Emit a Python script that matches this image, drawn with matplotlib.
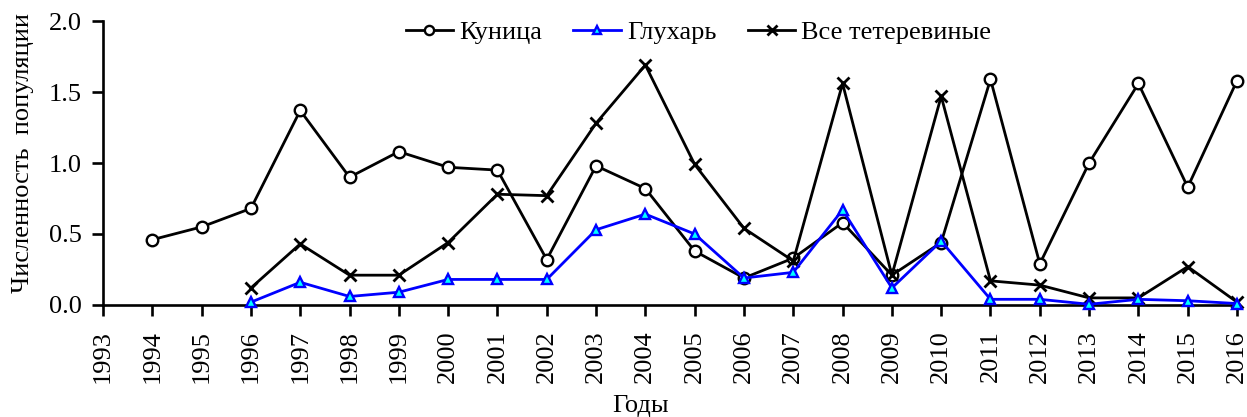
import matplotlib
matplotlib.use("Agg")
import matplotlib.pyplot as plt

years = list(range(1993, 2017))

kunitsa_years = list(range(1994, 2017))
kunitsa = [0.46, 0.55, 0.68, 1.37, 0.90, 1.08, 0.97, 0.95, 0.32, 0.98, 0.82,
           0.38, 0.19, 0.33, 0.58, 0.21, 0.44, 1.59, 0.29, 1.00, 1.56, 0.83, 1.58]

bird_years = list(range(1996, 2017))
glukhar = [0.02, 0.16, 0.06, 0.09, 0.18, 0.18, 0.18, 0.53, 0.64, 0.50, 0.19,
           0.23, 0.67, 0.12, 0.45, 0.04, 0.04, 0.005, 0.04, 0.03, 0.01]
tetereviny = [0.12, 0.43, 0.21, 0.21, 0.44, 0.78, 0.77, 1.28, 1.69, 0.99, 0.54,
              0.31, 1.56, 0.21, 1.47, 0.17, 0.14, 0.05, 0.05, 0.27, 0.02]

plt.rcParams['font.family'] = ['Liberation Serif', 'DejaVu Serif']
plt.rcParams['font.size'] = 19

fig = plt.figure(figsize=(12.47, 4.17), dpi=100)
ax = fig.add_axes([0.0826, 0.2686, 0.9094, 0.681])

lw = 2.0
ax.plot(kunitsa_years, kunitsa, color='black', lw=lw, marker='o', ms=8.3,
        mfc='white', mec='black', mew=1.7, label='Куница', clip_on=False, zorder=3)
ax.plot(bird_years, glukhar, color='blue', lw=lw, marker='^', ms=7.5,
        mfc='cyan', mec='blue', mew=1.7, label='Глухарь', clip_on=False, zorder=4)
ax.plot(bird_years, tetereviny, color='black', lw=lw, marker='x', ms=9,
        mec='black', mew=2.0, label='Все тетеревиные', clip_on=False, zorder=3)

ax.set_xlim(1993, 2016)
ax.set_ylim(0, 2.0)
ax.set_xticks(years)
ax.set_xticklabels([str(y) for y in years], rotation=90)
ax.set_yticks([0.0, 0.5, 1.0, 1.5, 2.0])
ax.set_yticklabels(['0.0', '0.5', '1.0', '1.5', '2.0'])

for s in ['top', 'right']:
    ax.spines[s].set_visible(False)
for s in ['left', 'bottom']:
    ax.spines[s].set_linewidth(1.9)
ax.tick_params(direction='out', length=8, width=1.9, labelsize=19)
ax.tick_params(axis='x', pad=10)
ax.tick_params(axis='y', pad=7)

ax.set_ylabel('Численность  популяции', fontsize=19, va='center')
ax.yaxis.set_label_coords(-0.0705, 0.535)
ax.set_xlabel('Годы', fontsize=19, va='center')
ax.xaxis.set_label_coords(0.474, -0.355)

ax.legend(loc='upper center', bbox_to_anchor=(0.525, 1.085), ncol=3, frameon=False,
          fontsize=19, handlelength=1.8, handletextpad=0.22, columnspacing=1.2,
          markerscale=0.8)

fig.savefig('out.png', dpi=100)
